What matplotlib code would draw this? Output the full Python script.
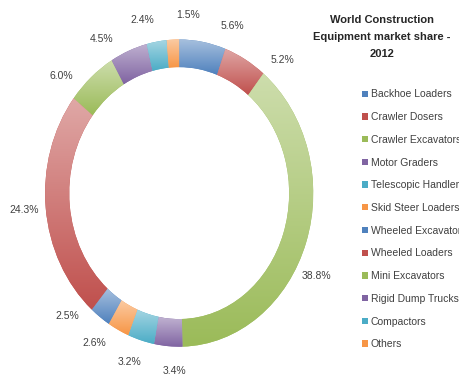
import numpy as np
import matplotlib

matplotlib.use('Agg')
import matplotlib.pyplot as plt
from matplotlib.colors import to_rgb

categories = ['Backhoe Loaders', 'Crawler Dosers', 'Crawler Excavators', 'Motor Graders',
              'Telescopic Handlers', 'Skid Steer Loaders', 'Wheeled Excavators',
              'Wheeled Loaders', 'Mini Excavators', 'Rigid Dump Trucks', 'Compactors', 'Others']
shares = [5.6, 5.2, 38.8, 3.4, 3.2, 2.6, 2.5, 24.3, 6.0, 4.5, 2.4, 1.5]
colors = ['#4F81BD', '#C0504D', '#9BBB59', '#8064A2', '#4BACC6', '#F79646',
          '#4F81BD', '#C0504D', '#9BBB59', '#8064A2', '#4BACC6', '#F79646']
title = 'World Construction\nEquipment market share -\n2012'

# clockwise nudge (deg) of each data label, excel moved them around a bit
label_nudge = [10, 12, 9, -3, 2, 6, 10, 0, -8, -8, -4, 6]

plt.rcParams['font.family'] = ['Liberation Sans Narrow', 'Liberation Sans', 'DejaVu Sans']


def lighten(c, amt):
    rgb = np.array(to_rgb(c))
    return rgb + (1 - rgb) * amt


fig = plt.figure(figsize=(4.6, 3.76), dpi=100)
ax = fig.add_axes([0.098, 0.078, 0.583, 0.817])

wedges, _ = ax.pie(shares, colors=colors, startangle=90, counterclock=False,
                   wedgeprops=dict(width=0.18, linewidth=0))

# excel-style vertical gradient on each slice
for w, c in zip(wedges, colors):
    bb = w.get_path().get_extents()
    t = np.linspace(0, 1, 64)[:, None]
    grad = lighten(c, 0.5) * (1 - t) + np.array(to_rgb(c)) * t
    img = ax.imshow(grad[:, None, :], extent=(bb.x0, bb.x1, bb.y0, bb.y1),
                    aspect='auto', origin='upper', interpolation='bilinear',
                    zorder=w.get_zorder() + 0.1)
    img.set_clip_path(w)

for w, s, nudge in zip(wedges, shares, label_nudge):
    ang = np.deg2rad((w.theta1 + w.theta2) / 2 - nudge)
    ax.text(1.16 * np.cos(ang), 1.16 * np.sin(ang), f'{s:.1f}%',
            ha='center', va='center', fontsize=7.5, color='#404040')

ax.set_xlim(-1, 1)
ax.set_ylim(-1, 1)
ax.set_aspect('auto')
ax.axis('off')

fig.text(0.83, 0.902, title, ha='center', va='center', fontsize=8,
         fontweight='bold', color='#262626', linespacing=1.85)

fig.legend(wedges, categories, loc='upper left', bbox_to_anchor=(0.787, 0.762),
           frameon=False, fontsize=7.5, handlelength=0.55, handleheight=0.55,
           handletextpad=0.3, labelspacing=1.22, borderpad=0, borderaxespad=0,
           labelcolor='#404040')

fig.savefig('out.png', dpi=100)
